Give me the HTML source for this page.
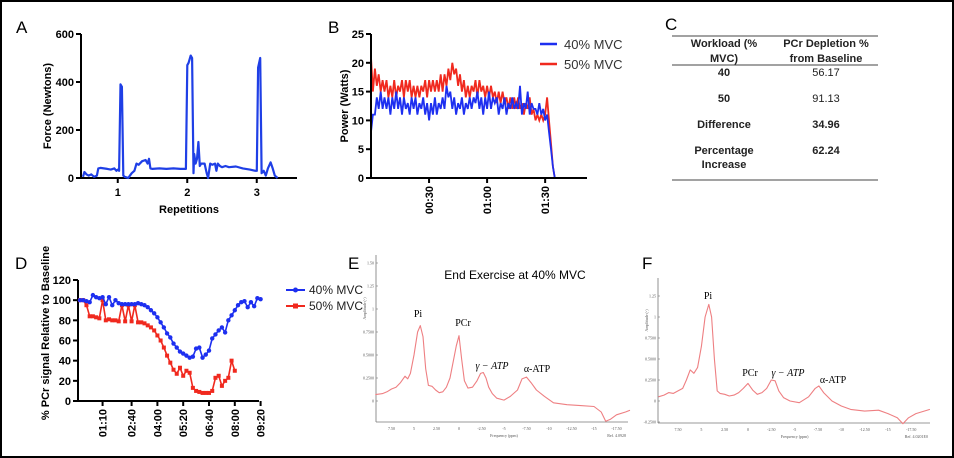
<!DOCTYPE html>
<html><head><meta charset="utf-8"><style>
html,body{margin:0;padding:0;background:#fff;}
svg{display:block;font-family:"Liberation Sans",Arial,sans-serif;}
.tk{font-size:11px;font-weight:bold;fill:#000;}
.tb{font-size:11px;fill:#222;}
.sm{font-size:4px;fill:#555;font-family:"Liberation Serif",serif;}
.pk{font-size:10px;fill:#000;font-family:"Liberation Serif",serif;}
</style></head><body>
<svg id="fig" width="954" height="458" viewBox="0 0 954 458" xmlns="http://www.w3.org/2000/svg">
<rect x="1" y="1" width="952" height="456" fill="#fff" stroke="#000" stroke-width="2"/>
<!-- Panel letters -->
<text x="16" y="33" font-size="17">A</text>
<text x="328" y="33" font-size="17">B</text>
<text x="665" y="30" font-size="17">C</text>
<text x="15" y="269" font-size="17">D</text>
<text x="348" y="269" font-size="17">E</text>
<text x="642" y="269" font-size="17">F</text>

<!-- Panel C table -->
<g>
<line x1="672" y1="36" x2="878" y2="36" stroke="#444" stroke-width="1"/>
<line x1="672" y1="65" x2="878" y2="65" stroke="#444" stroke-width="1"/>
<line x1="672" y1="180" x2="878" y2="180" stroke="#444" stroke-width="1"/>
<g class="tb" text-anchor="middle" font-weight="bold">
<text x="724" y="47">Workload (%</text>
<text x="724" y="62">MVC)</text>
<text x="826" y="47">PCr Depletion %</text>
<text x="826" y="62">from Baseline</text>
<text x="724" y="76">40</text>
<text x="724" y="102">50</text>
<text x="724" y="128">Difference</text>
<text x="724" y="154">Percentage</text>
<text x="724" y="168">Increase</text>
<text x="826" y="128">34.96</text>
<text x="826" y="154">62.24</text>
</g>
<g class="tb" text-anchor="middle">
<text x="826" y="76">56.17</text>
<text x="826" y="102">91.13</text>
</g>
</g>

<g id="gA"></g><g id="gB"></g><g id="gD"></g><g id="gE"></g><g id="gF"></g>
</svg>
<script>
// ---------- Panel A data ----------
const forceReps = [0.5,0.52,0.55,0.58,0.62,0.66,0.7,0.72,0.75,0.8,0.85,0.9,0.95,0.98,1.0,1.02,1.04,1.06,1.08,1.1,1.15,1.2,1.24,1.27,1.3,1.35,1.4,1.43,1.45,1.47,1.5,1.6,1.7,1.8,1.9,1.98,2.0,2.02,2.05,2.07,2.09,2.1,2.12,2.14,2.16,2.18,2.2,2.25,2.28,2.3,2.33,2.36,2.4,2.42,2.44,2.47,2.5,2.55,2.6,2.7,2.8,2.9,2.98,3.0,3.02,3.05,3.07,3.1,3.13,3.16,3.2,3.23,3.26,3.3];
const forceN =    [5,25,15,10,15,5,10,40,42,40,38,35,40,30,35,30,390,380,10,5,0,20,30,60,55,70,75,60,80,40,38,40,38,40,38,38,470,480,510,500,20,100,60,80,150,50,60,60,20,0,60,55,60,30,60,50,45,50,45,48,40,35,30,30,460,500,20,30,10,40,65,40,10,0];
const forceTicksY = [0,200,400,600];
const forceTicksX = [1,2,3];
// ---------- Panel B data ----------
const powerSeconds = [0,1,2,3,4,5,6,7,8,9,10,11,12,13,14,15,16,17,18,19,20,21,22,23,24,25,26,27,28,29,30,31,32,33,34,35,36,37,38,39,40,41,42,43,44,45,46,47,48,49,50,51,52,53,54,55,56,57,58,59,60,61,62,63,64,65,66,67,68,69,70,71,72,73,74,75,76,77,78,79,80,81,82,83,84,85,86,87,88,89,90,91,92,93,94,95];
const power40 = [8,11,11,14,12,15,12,14,12,14,11,14,12,15,12,14,11,14,12,13,11,14,12,14,11,13,12,14,11,13,10,13,11,14,11,13,12,14,12,16,14,15,12,14,11,13,12,14,11,13,12,14,12,14,13,15,12,14,11,14,12,15,12,14,13,14,11,13,12,14,11,13,12,14,12,13,12,16,11,13,12,15,11,13,12,12,11,13,11,12,10,11,8,5,2,0];
const power50 = [21,15,19,16,18,15,17,15,17,14,16,14,17,14,16,15,17,14,17,15,17,14,16,14,16,14,16,15,17,14,17,15,17,15,17,15,18,15,18,16,19,17,20,18,19,16,18,15,17,14,16,14,16,15,17,14,17,15,16,14,16,14,16,14,15,13,15,13,15,13,14,12,14,12,14,12,14,12,13,11,13,12,14,11,12,10,11,10,11,10,11,14,10,6,2,0];
const powerTicksY = [0,5,10,15,20,25];
const powerTicksX = [30,60,90];
const powerTickLabels = ["00:30","01:00","01:30"];
// ---------- Panel D data ----------
const pcrT40 = [0,10,20,30,40,50,60,70,80,90,100,110,120,130,140,150,160,170,180,190,200,210,220,230,240,250,260,270,280,290,300,310,320,330,340,350,360,370,380,390,400,410,420,430,440,450,460,470,480,490,500,510,520,530,540,550,560];
const pcr40 = [100,100,99,98,105,103,102,103,96,103,95,100,97,96,96,96,96,96,97,96,95,93,90,87,83,78,73,67,63,57,53,49,47,45,43,44,52,53,43,46,50,62,66,70,73,68,80,85,90,95,98,99,93,98,94,102,101];
const pcrT50 = [0,10,20,30,40,50,60,70,80,90,100,110,120,130,140,150,160,170,180,190,200,210,220,230,240,250,260,270,280,290,300,310,320,330,340,350,360,370,380,390,400,410,420,430,440,450,460,470,480];
const pcr50 = [100,100,95,84,84,83,82,100,80,81,80,80,79,95,79,95,79,95,78,78,77,75,73,70,65,60,53,45,38,31,27,33,25,30,28,13,10,9,8,8,8,10,23,25,15,20,23,40,30];
const pcrTicksY = [0,20,40,60,80,100,120];
const pcrTicksX = [70,160,240,320,400,480,560];
const pcrTickLabels = ["01:10","02:40","04:00","05:20","06:40","08:00","09:20"];
// ---------- Panel E / F spectra ----------
const ppmE = [9.3,8.5,8,7.5,7,6.5,6,5.7,5.4,5.0,4.6,4.3,4.0,3.7,3.4,3.0,2.6,2.2,1.8,1.4,1.0,0.6,0.3,0.0,-0.3,-0.6,-1.0,-1.5,-2.0,-2.4,-2.7,-3.0,-3.3,-3.7,-4.2,-5,-5.7,-6.5,-7.0,-7.5,-8.0,-8.6,-9.5,-10.5,-12,-13.5,-15,-15.8,-16.3,-16.8,-17.5,-18.5,-19];
const ampE = [0.07,0.08,0.1,0.13,0.15,0.2,0.27,0.24,0.3,0.5,0.75,0.82,0.7,0.35,0.17,0.16,0.12,0.09,0.1,0.15,0.25,0.45,0.6,0.71,0.45,0.22,0.14,0.15,0.22,0.3,0.31,0.25,0.15,0.08,0.03,0.01,0.05,0.12,0.24,0.26,0.2,0.12,0.05,-0.02,-0.04,-0.05,-0.06,-0.12,-0.22,-0.2,-0.15,-0.12,-0.1];
const ppmF = [9.6,9,8.5,8,7.5,7,6.6,6.2,5.8,5.4,5.0,4.6,4.2,3.9,3.6,3.3,3.0,2.5,2.0,1.5,1.0,0.5,0,-0.5,-1,-1.5,-2.0,-2.5,-2.9,-3.3,-3.8,-4.5,-5.5,-6.5,-7.2,-7.6,-8.1,-9,-10,-11,-12.5,-14,-15,-16,-16.6,-17.2,-18,-19.5];
const ampF = [0.05,0.07,0.1,0.09,0.12,0.15,0.25,0.37,0.33,0.4,0.65,1.0,1.15,1.0,0.5,0.12,0.09,0.08,0.06,0.07,0.1,0.15,0.21,0.13,0.08,0.1,0.15,0.25,0.24,0.12,0.04,0.0,-0.02,0.05,0.15,0.18,0.1,0.0,-0.06,-0.1,-0.12,-0.11,-0.15,-0.2,-0.27,-0.2,-0.15,-0.1];
const ampTicksE = [0,0.25,0.5,0.75,1,1.25,1.5];
const ampLabelsE = ["0","0.2500","0.5000","0.7500","1","1.25","1.50"];
const ampTicksF = [-0.25,0,0.25,0.5,0.75,1,1.25];
const ampLabelsF = ["-0.2500","0","0.2500","0.5000","0.7500","1","1.25"];
const ppmTicks = [7.5,5,2.5,0,-2.5,-5,-7.5,-10,-12.5,-15,-17.5];
const ppmLabels = ["7.50","5","2.50","0","-2.50","-5","-7.50","-10","-12.50","-15","-17.50"];

const NS="http://www.w3.org/2000/svg";
function mk(parent, tag, attrs, txt){const e=document.createElementNS(NS,tag);for(const k in attrs)e.setAttribute(k,attrs[k]);if(txt!==undefined)e.textContent=txt;parent.appendChild(e);return e;}
function pts(xs,ys,sx,sy){return xs.map((v,i)=>sx(v).toFixed(1)+","+sy(ys[i]).toFixed(1)).join(" ");}

// ===== Panel A =====
(function(){
const g=document.getElementById('gA');
const sx=v=>83+(v-0.5)*69.5, sy=v=>178-v*(144/600);
let e;
e=mk(g,'line',{x1:81,y1:34,x2:81,y2:179,stroke:'#000','stroke-width':2});


e=mk(g,'line',{x1:80,y1:178,x2:297,y2:178,stroke:'#000','stroke-width':2});


forceTicksY.forEach(v=>{
 mk(g,'line',{x1:76,y1:sy(v),x2:81,y2:sy(v),stroke:'#000','stroke-width':2});
 e=mk(g,'text',{x:74,y:sy(v)+4,'text-anchor':'end',class:'tk'},String(v));
 
 
});
forceTicksX.forEach(v=>{
 mk(g,'line',{x1:sx(v),y1:178,x2:sx(v),y2:183,stroke:'#000','stroke-width':2});
 e=mk(g,'text',{x:sx(v),y:196,'text-anchor':'middle',class:'tk'},String(v));
 
 
});
e=mk(g,'text',{x:189,y:213,'text-anchor':'middle',class:'tk','font-size':'12'},'Repetitions');


e=mk(g,'text',{x:51,y:106,'text-anchor':'middle',class:'tk','font-size':'12',transform:'rotate(-90 51 106)'},'Force (Newtons)');


e=mk(g,'polyline',{points:pts(forceReps,forceN,sx,sy),fill:'none',stroke:'#1f3fe6','stroke-width':2.2,'stroke-linejoin':'round'});


})();

// ===== Panel B =====
(function(){
const g=document.getElementById('gB');
const sx=v=>371+v*1.935, sy=v=>178-v*(144/25);
let e;
e=mk(g,'polyline',{points:pts(powerSeconds,power50,sx,sy),fill:'none',stroke:'#f0291e','stroke-width':1.8});


e=mk(g,'polyline',{points:pts(powerSeconds,power40,sx,sy),fill:'none',stroke:'#1d2ff0','stroke-width':1.8});


e=mk(g,'line',{x1:371,y1:34,x2:371,y2:179,stroke:'#000','stroke-width':2});


e=mk(g,'line',{x1:370,y1:178,x2:587,y2:178,stroke:'#000','stroke-width':2});


powerTicksY.forEach(v=>{
 mk(g,'line',{x1:366,y1:sy(v),x2:371,y2:sy(v),stroke:'#000','stroke-width':2});
 e=mk(g,'text',{x:364,y:sy(v)+4,'text-anchor':'end',class:'tk'},String(v));
 
 
});
powerTicksX.forEach((v,i)=>{
 const x=sx(v);
 mk(g,'line',{x1:x,y1:178,x2:x,y2:183,stroke:'#000','stroke-width':2});
 e=mk(g,'text',{x:x+4,y:186,'text-anchor':'end',class:'tk',transform:`rotate(-90 ${x+4} 186)`},powerTickLabels[i]);
 
 
});
e=mk(g,'text',{x:348,y:106,'text-anchor':'middle',class:'tk','font-size':'12',transform:'rotate(-90 348 106)'},'Power (Watts)');


e=mk(g,'line',{x1:540,y1:44,x2:557,y2:44,stroke:'#1d2ff0','stroke-width':2.5});


e=mk(g,'text',{x:564,y:49,'font-size':'13',fill:'#333'},'40% MVC');


e=mk(g,'line',{x1:540,y1:64,x2:557,y2:64,stroke:'#f0291e','stroke-width':2.5});


e=mk(g,'text',{x:564,y:69,'font-size':'13',fill:'#333'},'50% MVC');


})();

// ===== Panel D =====
(function(){
const g=document.getElementById('gD');
const sx=v=>80+v*0.3225, sy=v=>401-v*(121/120);
let e;
e=mk(g,'line',{x1:78,y1:280,x2:78,y2:402,stroke:'#000','stroke-width':2});


e=mk(g,'line',{x1:77,y1:401,x2:259,y2:401,stroke:'#000','stroke-width':2});


pcrTicksY.forEach(v=>{
 mk(g,'line',{x1:73,y1:sy(v),x2:78,y2:sy(v),stroke:'#000','stroke-width':2});
 e=mk(g,'text',{x:71,y:sy(v)+4,'text-anchor':'end',class:'tk'},String(v));
 
 
});
pcrTicksX.forEach((v,i)=>{
 const x=sx(v);
 mk(g,'line',{x1:x,y1:401,x2:x,y2:406,stroke:'#000','stroke-width':2});
 e=mk(g,'text',{x:x+4,y:409,'text-anchor':'end',class:'tk',transform:`rotate(-90 ${x+4} 409)`},pcrTickLabels[i]);
 
 
});
e=mk(g,'text',{x:49,y:333,'text-anchor':'middle',class:'tk','font-size':'12',transform:'rotate(-90 49 333)'},'% PCr signal Relative to Baseline');


e=mk(g,'polyline',{points:pts(pcrT50,pcr50,sx,sy),fill:'none',stroke:'#f0291e','stroke-width':1.6});


pcrT50.forEach((t,i)=>{
 e=mk(g,'rect',{x:sx(t)-2,y:sy(pcr50[i])-2,width:4,height:4,fill:'#f0291e'});
 
 
});
e=mk(g,'polyline',{points:pts(pcrT40,pcr40,sx,sy),fill:'none',stroke:'#1d2ff0','stroke-width':1.6});


pcrT40.forEach((t,i)=>{
 e=mk(g,'circle',{cx:sx(t),cy:sy(pcr40[i]),r:2.2,fill:'#1d2ff0'});
 
 
});
e=mk(g,'line',{x1:286,y1:290,x2:305,y2:290,stroke:'#1d2ff0','stroke-width':2});


mk(g,'circle',{cx:295.5,cy:290,r:2.5,fill:'#1d2ff0'});
e=mk(g,'text',{x:309,y:294,'font-size':'12',fill:'#222'},'40% MVC');


e=mk(g,'line',{x1:286,y1:306,x2:305,y2:306,stroke:'#f0291e','stroke-width':2});


mk(g,'rect',{x:293,y:303.5,width:5,height:5,fill:'#f0291e'});
e=mk(g,'text',{x:309,y:310,'font-size':'12',fill:'#222'},'50% MVC');


})();

// ===== Spectrum helper =====
function spectrum(gid, ppm, amp, x0, pxPerPpm, y0, pxPerAmp, frame, ticksA, labelsA, ref, prefix){
const g=document.getElementById(gid);
const sx=v=>x0-v*pxPerPpm, sy=v=>y0-v*pxPerAmp;
let e;
e=mk(g,'line',{x1:frame.l,y1:frame.t,x2:frame.l,y2:frame.b,stroke:'#777','stroke-width':0.8});


e=mk(g,'line',{x1:frame.l,y1:frame.b,x2:frame.r,y2:frame.b,stroke:'#777','stroke-width':0.8});


ticksA.forEach((v,i)=>{
 mk(g,'line',{x1:frame.l,y1:sy(v),x2:frame.l+2,y2:sy(v),stroke:'#777','stroke-width':0.6});
 e=mk(g,'text',{x:frame.l-2,y:sy(v)+1.5,'text-anchor':'end',class:'sm'},labelsA[i]);
 
 
});
ppmTicks.forEach((v,i)=>{
 e=mk(g,'text',{x:sx(v),y:frame.b+8,'text-anchor':'middle',class:'sm'},ppmLabels[i]);
 
 
});
e=mk(g,'text',{x:sx(-5),y:frame.b+15,'text-anchor':'middle',class:'sm'},'Frequency (ppm)');


e=mk(g,'text',{x:frame.r-2,y:frame.b+15,'text-anchor':'end',class:'sm'},ref);


const ym=(frame.t+frame.b)/2-30;
e=mk(g,'text',{x:frame.l-10,y:ym,'text-anchor':'middle',class:'sm',transform:`rotate(-90 ${frame.l-10} ${ym})`},'Amplitude (-)');


e=mk(g,'polyline',{points:pts(ppm,amp,sx,sy),fill:'none',stroke:'#ee7f82','stroke-width':1.1,'stroke-linejoin':'round'});


return g;
}
(function(){
const g=spectrum('gE',ppmE,ampE,459,9,401,92,{l:376,t:255,b:422,r:628},ampTicksE,ampLabelsE,'Ref. 4.0928','spectrum-e');
let e;
e=mk(g,'text',{x:515,y:279,'text-anchor':'middle','font-size':'12',fill:'#000'},'End Exercise at 40% MVC');


e=mk(g,'text',{x:418,y:317,'text-anchor':'middle',class:'pk'},'Pi');


e=mk(g,'text',{x:463,y:326,'text-anchor':'middle',class:'pk'},'PCr');


e=mk(g,'text',{x:492,y:369,'text-anchor':'middle',class:'pk','font-style':'italic'},'γ − ATP');


e=mk(g,'text',{x:537,y:372,'text-anchor':'middle',class:'pk'},'α-ATP');


})();
(function(){
const g=spectrum('gF',ppmF,ampF,748,9.33,401,84,{l:658,t:278,b:423,r:930},ampTicksF,ampLabelsF,'Ref. 4.0201E0','spectrum-f');
let e;
e=mk(g,'text',{x:708,y:299,'text-anchor':'middle',class:'pk'},'Pi');


e=mk(g,'text',{x:750,y:376,'text-anchor':'middle',class:'pk'},'PCr');


e=mk(g,'text',{x:788,y:376,'text-anchor':'middle',class:'pk','font-style':'italic'},'γ − ATP');


e=mk(g,'text',{x:833,y:383,'text-anchor':'middle',class:'pk'},'α-ATP');


})();
</script>
</body></html>
